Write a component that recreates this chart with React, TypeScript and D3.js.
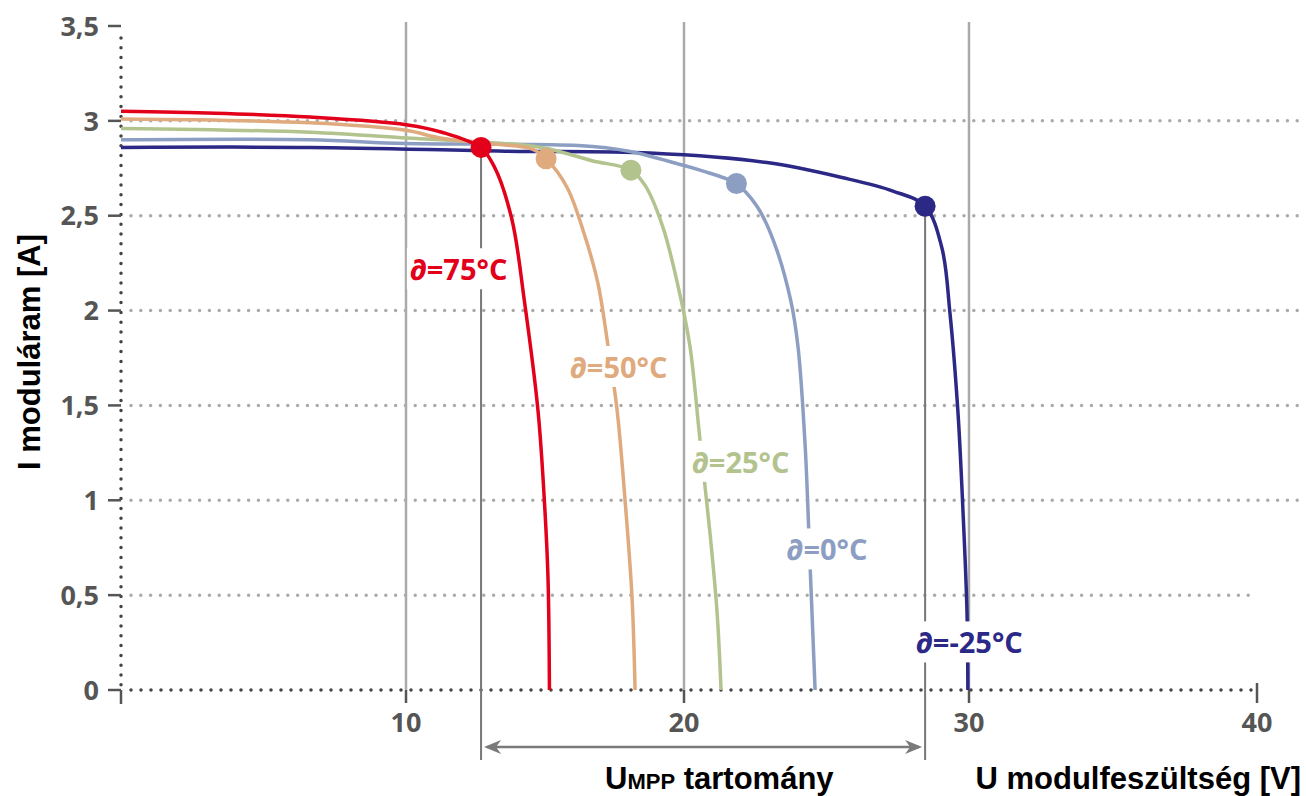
import React, { useRef, useEffect } from 'react';
import * as d3 from 'd3';

// tick values and labels
const xTicks = [10, 20, 30, 40];
const yTicks = [0, 0.5, 1, 1.5, 2, 2.5, 3, 3.5];
const yTickLabels = ['0', '0,5', '1', '1,5', '2', '2,5', '3', '3,5'];
const gridI = [0.5, 1, 1.5, 2, 2.5, 3];
const gridU = [10, 20, 30];

// I-U curves, one pair of arrays per temperature
const temps = ['75', '50', '25', '0', '-25'];
const u75 = [0, 3.3, 6.63, 10, 11.29, 12.66, 13.17, 13.81, 14.25, 14.75, 15.0, 15.11, 15.16];
const i75 = [3.05, 3.04, 3.02, 2.98, 2.94, 2.86, 2.76, 2.48, 2.06, 1.47, 0.94, 0.58, 0];
const u50 = [0, 6.63, 10, 11.22, 13.02, 14.57, 15.04, 15.79, 16.44, 16.91, 17.27, 17.59, 17.88, 18.13, 18.24];
const i50 = [3.01, 2.99, 2.95, 2.91, 2.88, 2.85, 2.80, 2.65, 2.39, 2.14, 1.81, 1.48, 1.0, 0.49, 0];
const u25 = [0, 6.63, 10, 11.22, 14.86, 16.69, 18.09, 18.6, 19.24, 19.89, 20.21, 20.56, 20.91, 21.16, 21.3];
const i25 = [2.96, 2.94, 2.91, 2.90, 2.86, 2.79, 2.74, 2.66, 2.44, 2.06, 1.81, 1.32, 0.83, 0.41, 0];
const u0 = [0, 6.63, 10, 16.19, 18.02, 19.86, 20.56, 21.82, 22.56, 23.16, 23.75, 24.0, 24.25, 24.42, 24.6];
const i0 = [2.90, 2.90, 2.88, 2.87, 2.84, 2.77, 2.74, 2.67, 2.55, 2.36, 2.05, 1.81, 1.29, 0.67, 0];
const um25 = [0, 6.63, 13.56, 18.78, 22.91, 25.58, 27.33, 28.46, 29.05, 29.33, 29.61, 29.79, 29.93, 29.96];
const im25 = [2.86, 2.86, 2.84, 2.83, 2.78, 2.70, 2.63, 2.55, 2.33, 1.99, 1.47, 0.94, 0.41, 0];

// maximum power points
const mppU = [12.70, 15.04, 18.09, 21.84, 28.46];
const mppI = [2.86, 2.80, 2.74, 2.67, 2.55];

const W = 1308;
const H = 796;

const App = () => {
    const ref = useRef(null);

    useEffect(() => {
        const svg = d3.select(ref.current);
        svg.selectAll('*').remove();

        const x = d3.scaleLinear().domain([0, 10, 20, 30, 40]).range([121, 406, 684, 969, 1257]);
        const y = d3.scaleLinear().domain([0, 3.5]).range([690, 26]);

        const colors = ['#e2001a', '#dfaa7e', '#b3c38e', '#8d9ec3', '#2c2886'];
        const series = [[u75, i75], [u50, i50], [u25, i25], [u0, i0], [um25, im25]]
            .map(([u, i]) => u.map((v, k) => [v, i[k]]));
        // where each temperature label sits (data coords: left edge, middle)
        const labelPos = [[10.14, 2.215], [15.9, 1.70], [20.28, 1.20], [23.6, 0.738], [28.14, 0.248]];

        const numFont = "'Open Sans', 'DejaVu Sans', sans-serif";
        const titleFont = "'Liberation Sans', Arial, sans-serif";

        // vertical grid
        svg.append('g').selectAll('line').data(gridU).join('line')
            .attr('x1', d => x(d)).attr('x2', d => x(d))
            .attr('y1', 22).attr('y2', y(0))
            .attr('stroke', '#aaa').attr('stroke-width', 2.5);

        // horizontal dotted grid
        svg.append('g').selectAll('line').data(gridI).join('line')
            .attr('x1', x(0) + 10).attr('x2', d => d === 0.5 ? x(40) : 1302)
            .attr('y1', d => y(d)).attr('y2', d => y(d))
            .attr('stroke', '#aaa').attr('stroke-width', 3.5)
            .attr('stroke-linecap', 'round').attr('stroke-dasharray', '0 9.8');

        // axes (dotted)
        const axis = svg.append('g');
        axis.append('line')
            .attr('x1', x(0)).attr('x2', x(0)).attr('y1', y(3.5) + 12).attr('y2', y(0))
            .attr('stroke', '#444').attr('stroke-width', 3.5)
            .attr('stroke-linecap', 'round').attr('stroke-dasharray', '0 9.8');
        axis.append('line')
            .attr('x1', x(0) + 10).attr('x2', x(40)).attr('y1', y(0)).attr('y2', y(0))
            .attr('stroke', '#444').attr('stroke-width', 3.5)
            .attr('stroke-linecap', 'round').attr('stroke-dasharray', '0 10');
        axis.selectAll('.ytick').data(yTicks).join('line').attr('class', 'ytick')
            .attr('x1', 108).attr('x2', x(0)).attr('y1', d => y(d)).attr('y2', d => y(d))
            .attr('stroke', '#555').attr('stroke-width', 2.5);
        axis.append('line')
            .attr('x1', x(0)).attr('x2', x(0)).attr('y1', y(0)).attr('y2', y(0) + 14)
            .attr('stroke', '#555').attr('stroke-width', 2.5);
        axis.selectAll('.xtick').data(xTicks).join('line').attr('class', 'xtick')
            .attr('x1', d => x(d)).attr('x2', d => x(d))
            .attr('y1', d => d === 40 ? y(0) - 7 : y(0)).attr('y2', y(0) + 13)
            .attr('stroke', '#555').attr('stroke-width', 2.5);

        axis.selectAll('.ylab').data(yTicks).join('text').attr('class', 'ylab')
            .attr('x', 99).attr('y', d => y(d)).attr('dy', '0.36em')
            .attr('text-anchor', 'end')
            .style('font-family', numFont).style('font-weight', 700).style('font-size', '27px')
            .attr('fill', '#555')
            .text((d, k) => yTickLabels[k]);
        axis.selectAll('.xlab').data(xTicks).join('text').attr('class', 'xlab')
            .attr('x', d => x(d)).attr('y', 732)
            .attr('text-anchor', 'middle')
            .style('font-family', numFont).style('font-weight', 700).style('font-size', '27px')
            .attr('fill', '#555')
            .text(d => d);

        // MPP drop lines and range arrow
        const mppLo = x(mppU[0]);
        const mppHi = x(mppU[4]);
        [[mppLo, mppI[0]], [mppHi, mppI[4]]].forEach(([px, i]) => {
            svg.append('line')
                .attr('x1', px).attr('x2', px).attr('y1', y(i)).attr('y2', 760)
                .attr('stroke', '#777').attr('stroke-width', 2);
        });
        const arrowY = 747;
        svg.append('line')
            .attr('x1', mppLo + 6).attr('x2', mppHi - 6).attr('y1', arrowY).attr('y2', arrowY)
            .attr('stroke', '#7a7a7a').attr('stroke-width', 2.5);
        const head = (tip, dir) => `M${tip},${arrowY} L${tip + dir * 17},${arrowY - 7} L${tip + dir * 12},${arrowY} L${tip + dir * 17},${arrowY + 7} Z`;
        svg.append('path').attr('d', head(mppLo + 3, 1)).attr('fill', '#7a7a7a');
        svg.append('path').attr('d', head(mppHi - 3, -1)).attr('fill', '#7a7a7a');

        // curves, coldest first so the red one ends on top
        const line = d3.line()
            .x(d => x(d[0]))
            .y(d => y(d[1]))
            .curve(d3.curveCatmullRom.alpha(0.5));
        const order = [4, 3, 2, 1, 0];
        svg.append('g').selectAll('path').data(order).join('path')
            .attr('d', k => line(series[k]))
            .attr('fill', 'none')
            .attr('stroke', k => colors[k])
            .attr('stroke-width', 3.5)
            .attr('stroke-linejoin', 'round');

        svg.append('g').selectAll('circle').data(order).join('circle')
            .attr('cx', k => x(mppU[k])).attr('cy', k => y(mppI[k]))
            .attr('r', 10.5)
            .attr('fill', k => colors[k]);

        // temperature labels on white boxes
        const labels = svg.append('g');
        temps.forEach((t, k) => {
            const g = labels.append('g');
            const txt = g.append('text')
                .attr('x', x(labelPos[k][0])).attr('y', y(labelPos[k][1])).attr('dy', '0.36em')
                .style('font-family', numFont).style('font-weight', 700).style('font-size', '29px')
                .attr('fill', colors[k])
                .text(`\u2202=${t}\u00b0C`);
            const bb = txt.node().getBBox();
            g.insert('rect', 'text')
                .attr('x', bb.x - 3).attr('y', bb.y - 1)
                .attr('width', bb.width + 6).attr('height', bb.height + 2)
                .attr('fill', '#fff');
        });

        // axis titles
        svg.append('text')
            .attr('transform', 'translate(40,352) rotate(-90)')
            .attr('text-anchor', 'middle')
            .style('font-family', titleFont).style('font-weight', 700).style('font-size', '31px')
            .attr('fill', '#000')
            .text('I moduláram [A]');
        svg.append('text')
            .attr('x', 1301).attr('y', 789)
            .attr('text-anchor', 'end')
            .style('font-family', titleFont).style('font-weight', 700).style('font-size', '31px')
            .attr('fill', '#000')
            .text('U modulfeszültség [V]');
        const umpp = svg.append('text')
            .attr('x', 605).attr('y', 789)
            .style('font-family', titleFont).style('font-weight', 700).style('font-size', '31px')
            .attr('fill', '#000');
        umpp.append('tspan').text('U');
        umpp.append('tspan').style('font-size', '22px').text('MPP');
        umpp.append('tspan').text(' tartomány');
    }, []);

    return (
        <svg ref={ref} width={W} height={H}
            style={{ position: 'absolute', left: 0, top: 0, background: '#fff', display: 'block' }}>
        </svg>
    );
};

export default App;
